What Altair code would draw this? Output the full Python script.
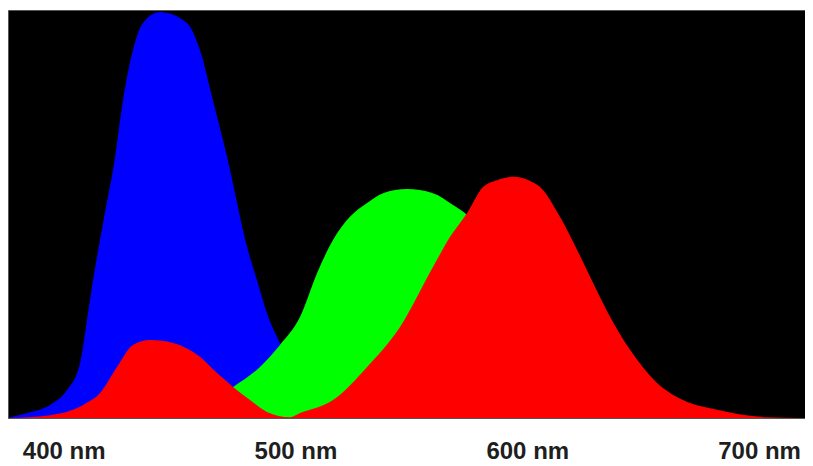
import altair as alt
import pandas as pd

# Cone sensitivity curves (wavelength in nm, relative sensitivity 0..1)
blue_nm = [376.0, 384.2, 394.1, 401.5, 407.1, 410.5, 412.7, 417.4, 422.2, 425.6, 429.9, 434.2,
           441.6, 453.2, 458.8, 464.4, 470.5, 479.5, 483.4, 487.7, 493.3, 499.8, 508.4, 519.2, 536.5, 723.4]
blue_val = [0.0, 0.012, 0.032, 0.069, 0.135, 0.257, 0.338, 0.490, 0.640, 0.779, 0.902, 0.968,
            0.995, 0.968, 0.902, 0.779, 0.640, 0.412, 0.338, 0.257, 0.184, 0.105, 0.044, 0.010, 0.0, 0.0]

green_nm = [376.0, 437.3, 458.8, 473.1, 484.7, 493.3, 502.0, 509.3, 516.2, 523.5, 530.9, 537.8,
            548.1, 559.3, 568.0, 574.0, 588.2, 605.5, 622.8, 640.0, 723.4]
green_val = [0.0, 0.0, 0.025, 0.076, 0.125, 0.179, 0.248, 0.355, 0.436, 0.493, 0.527, 0.551,
             0.561, 0.551, 0.522, 0.498, 0.387, 0.191, 0.044, 0.0, 0.0]

red_nm = [376.0, 394.1, 408.4, 415.7, 423.0, 429.9, 437.3, 447.2, 458.8, 466.2, 473.1, 480.4,
          487.7, 497.7, 502.0, 516.2, 530.9, 545.1, 559.3, 566.7, 574.0, 580.9, 587.0, 593.9,
          601.2, 605.5, 614.1, 621.5, 628.4, 635.7, 644.3, 656.0, 667.2, 681.9, 703.4, 723.4]
red_val = [0.0, 0.007, 0.032, 0.061, 0.125, 0.179, 0.191, 0.184, 0.150, 0.110, 0.076, 0.044,
           0.015, 0.002, 0.012, 0.044, 0.125, 0.223, 0.370, 0.444, 0.502, 0.566, 0.583, 0.591,
           0.581, 0.566, 0.493, 0.412, 0.331, 0.248, 0.167, 0.086, 0.044, 0.020, 0.002, 0.0]

tick_values = [400, 500, 600, 700]
x_domain = [376.0, 719.8]

blue_df = pd.DataFrame({"nm": blue_nm, "v": blue_val})
green_df = pd.DataFrame({"nm": green_nm, "v": green_val})
red_df = pd.DataFrame({"nm": red_nm, "v": red_val})

x_enc = alt.X(
    "nm:Q",
    scale=alt.Scale(domain=x_domain, nice=False, zero=False),
    axis=alt.Axis(
        values=tick_values,
        labelExpr="datum.value + ' nm'",
        title=None,
        ticks=False,
        tickSize=0,
        domain=False,
        grid=False,
        labelFont="Liberation Sans",
        labelFontSize=24,
        labelFontWeight="bold",
        labelColor="#1e1e1e",
        labelPadding=21,
        labelFlush=False,
    ),
)
y_enc = alt.Y("v:Q", scale=alt.Scale(domain=[0, 1], nice=False), axis=None)


def layer(df, color):
    return alt.Chart(df).mark_area(color=color, interpolate="monotone", opacity=1, clip=True).encode(
        x=x_enc, y=y_enc
    )


chart = (
    alt.layer(layer(blue_df, "#0000ff"), layer(green_df, "#00ff00"), layer(red_df, "#ff0000"))
    .properties(width=797, height=408, padding={"left": 0, "top": 2, "right": 0, "bottom": 44},
                background="white", autosize=alt.AutoSizeParams(type="none"))
    .configure_view(fill="#000000", stroke="#555555", strokeWidth=1)
)

chart.save("out.html", embed_options={"renderer": "svg", "actions": False})
